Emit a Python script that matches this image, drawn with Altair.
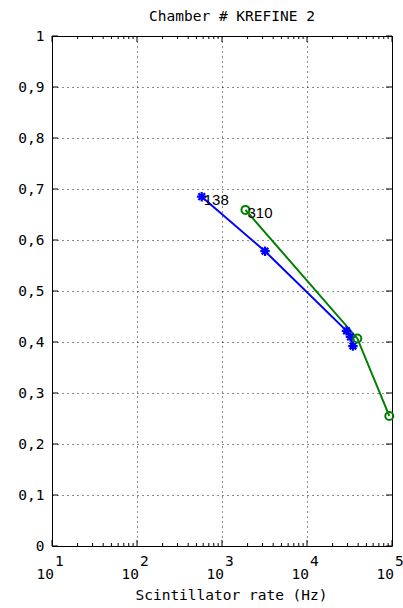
import altair as alt
import pandas as pd

# Efficiency vs scintillator rate for two runs of chamber KREFINE 2
blue_rate = [577, 3206, 29170, 32500, 34750]
blue_eff = [0.685, 0.578, 0.422, 0.410, 0.392]
green_rate = [1888, 39090, 92950]
green_eff = [0.659, 0.407, 0.255]

run_labels = ["138", "310"]
run_label_rate = [blue_rate[0], green_rate[0]]
run_label_eff = [blue_eff[0], green_eff[0]]

chart_title = ["Chamber # KREFINE 2"]

x_major = [10, 100, 1000, 10000, 100000]
x_exponents = ["1", "2", "3", "4", "5"]
x_minor = [m * 10 ** k for k in range(1, 5) for m in range(2, 10)]
y_major = [round(0.1 * i, 1) for i in range(11)]

W, H = 340, 510
MONO = "DejaVu Sans Mono"
FS = 14.5

xscale = alt.Scale(type="log", domain=[10, 100000], nice=False)
yscale = alt.Scale(domain=[0, 1], nice=False, zero=False)

blue = pd.DataFrame({"rate": blue_rate, "eff": blue_eff, "order": range(len(blue_rate))})
green = pd.DataFrame({"rate": green_rate, "eff": green_eff, "order": range(len(green_rate))})

x_axis = alt.Axis(
    values=x_major, grid=True, gridDash=[1, 4], gridColor="#000000", gridOpacity=0.9,
    labels=False, ticks=False, domain=False,
    title="Scintillator rate (Hz)", titleFont=MONO, titleFontSize=FS,
    titleFontWeight="normal", titleColor="#000000",
    titleX=179, titleY=49, titleAlign="center", titleBaseline="middle",
)
y_axis = alt.Axis(
    values=y_major, grid=True, gridDash=[1, 4], gridColor="#000000", gridOpacity=0.9,
    ticks=False, domain=False, title=None,
    labelFont=MONO, labelFontSize=FS, labelColor="#000000", labelPadding=8,
    labelExpr="replace(format(datum.value, '.1~f'), '.', ',')",
)

base_x = alt.X("rate:Q", scale=xscale, axis=x_axis)
base_y = alt.Y("eff:Q", scale=yscale, axis=y_axis)

blue_line = alt.Chart(blue).mark_line(color="#0000ff", strokeWidth=2).encode(
    x=base_x, y=base_y, order="order:Q")
green_line = alt.Chart(green).mark_line(color="#008000", strokeWidth=2).encode(
    x=alt.X("rate:Q", scale=xscale), y=alt.Y("eff:Q", scale=yscale), order="order:Q")

asterisk = "M-1,0L1,0M0,-1L0,1M-0.7,-0.7L0.7,0.7M-0.7,0.7L0.7,-0.7"
blue_pts = alt.Chart(blue).mark_point(
    shape=asterisk, size=90, filled=False, color="#0000ff", strokeWidth=2.2, opacity=1
).encode(x=alt.X("rate:Q", scale=xscale), y=alt.Y("eff:Q", scale=yscale))
green_pts = alt.Chart(green).mark_point(
    shape="circle", size=64, filled=False, color="#008000", strokeWidth=2, opacity=1
).encode(x=alt.X("rate:Q", scale=xscale), y=alt.Y("eff:Q", scale=yscale))

labels_df = pd.DataFrame({"rate": run_label_rate, "eff": run_label_eff, "txt": run_labels})
run_text = alt.Chart(labels_df).mark_text(
    align="left", baseline="middle", dx=2, dy=3, font="Liberation Sans",
    fontSize=15, color="#000000"
).encode(x=alt.X("rate:Q", scale=xscale), y=alt.Y("eff:Q", scale=yscale), text="txt:N")

# inward tick marks on all four sides
xmaj_df = pd.DataFrame({"rate": x_major, "exp": x_exponents})
xmin_df = pd.DataFrame({"rate": x_minor})
ymaj_df = pd.DataFrame({"eff": y_major})

def xticks(df, length):
    bottom = alt.Chart(df).mark_rule(color="#000000", strokeWidth=1).encode(
        x=alt.X("rate:Q", scale=xscale), y=alt.value(H), y2=alt.value(H - length))
    top = alt.Chart(df).mark_rule(color="#000000", strokeWidth=1).encode(
        x=alt.X("rate:Q", scale=xscale), y=alt.value(0), y2=alt.value(length))
    return bottom + top

yticks_left = alt.Chart(ymaj_df).mark_rule(color="#000000", strokeWidth=1).encode(
    y=alt.Y("eff:Q", scale=yscale), x=alt.value(0), x2=alt.value(6))
yticks_right = alt.Chart(ymaj_df).mark_rule(color="#000000", strokeWidth=1).encode(
    y=alt.Y("eff:Q", scale=yscale), x=alt.value(W), x2=alt.value(W - 6))

# "10" with its exponent raised to the upper right
ten_text = alt.Chart(xmaj_df).mark_text(
    align="right", baseline="middle", dx=2, font=MONO, fontSize=FS, color="#000000"
).encode(x=alt.X("rate:Q", scale=xscale), y=alt.value(539), text=alt.value("10"))
exp_text = alt.Chart(xmaj_df).mark_text(
    align="left", baseline="middle", dx=3, font=MONO, fontSize=FS, color="#000000"
).encode(x=alt.X("rate:Q", scale=xscale), y=alt.value(526), text="exp:N")

# title above the plot frame
title_text = alt.Chart(pd.DataFrame({"t": chart_title})).mark_text(
    align="center", baseline="middle", font=MONO, fontSize=FS, color="#000000"
).encode(x=alt.value(W / 2 + 10), y=alt.value(-19), text="t:N")

chart = alt.layer(
    blue_line, green_line, blue_pts, green_pts, run_text,
    xticks(xmaj_df, 6), xticks(xmin_df, 3), yticks_left, yticks_right,
    ten_text, exp_text, title_text,
).properties(
    width=W, height=H,
    autosize=alt.AutoSizeParams(type="none"),
    padding={"left": 52, "top": 36, "right": 11, "bottom": 62},
    background="#ffffff",
).configure_view(stroke="#000000", strokeWidth=1)

chart.save("out.html", embed_options={"renderer": "svg", "actions": False})
